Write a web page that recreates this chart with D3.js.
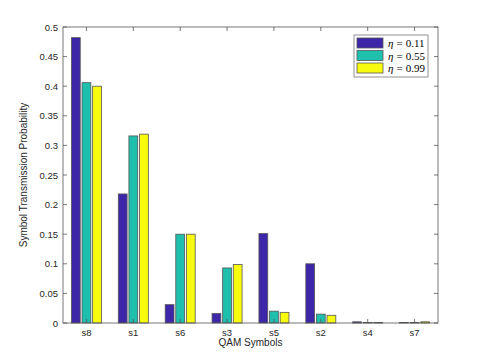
<!DOCTYPE html>
<html>
<head>
<meta charset="UTF-8">
<script src="https://cdnjs.cloudflare.com/ajax/libs/d3/7.8.5/d3.min.js"></script>
<style>
  body { margin: 0; background: #fff; }
  svg text { font-family: "Liberation Sans", Arial, sans-serif; }
</style>
</head>
<body>
<svg id="chart" width="485" height="363"></svg>
<script>
// data
const symbols = ["s8", "s1", "s6", "s3", "s5", "s2", "s4", "s7"];
const etaLabels = ["0.11", "0.55", "0.99"];
const eta011 = [0.482, 0.218, 0.031, 0.016, 0.151, 0.100, 0.002, 0.001];
const eta055 = [0.406, 0.316, 0.150, 0.093, 0.020, 0.015, 0.001, 0.001];
const eta099 = [0.400, 0.319, 0.150, 0.099, 0.018, 0.013, 0.001, 0.002];
const yTicks = [0, 0.05, 0.1, 0.15, 0.2, 0.25, 0.3, 0.35, 0.4, 0.45, 0.5];

const series = [eta011, eta055, eta099];
const colors = ["#3e26a8", "#1fbfae", "#f9fb0e"];

const svg = d3.select("#chart");
const m = { left: 63, top: 27, right: 438, bottom: 323 };

const x = d3.scaleBand().domain(symbols).range([m.left, m.right]).paddingInner(0.36).paddingOuter(0.18);
const xs = d3.scaleBand().domain(d3.range(series.length)).range([0, x.bandwidth()]).paddingInner(0.17);
const y = d3.scaleLinear().domain([0, 0.5]).range([m.bottom, m.top]);

const axisColor = "#555";
const textColor = "#262626";

// bars
const groups = svg.selectAll("g.grp")
  .data(symbols)
  .join("g")
  .attr("class", "grp")
  .attr("transform", d => `translate(${x(d)},0)`);

groups.selectAll("rect")
  .data((d, i) => series.map((s, k) => ({ k: k, v: s[i] })))
  .join("rect")
  .attr("x", d => xs(d.k))
  .attr("width", xs.bandwidth())
  .attr("y", d => y(d.v))
  .attr("height", d => y(0) - y(d.v))
  .attr("fill", (d) => colors[d.k])
  .attr("stroke", "#555")
  .attr("stroke-width", 0.8);

// axes box
svg.append("rect")
  .attr("x", m.left).attr("y", m.top)
  .attr("width", m.right - m.left).attr("height", m.bottom - m.top)
  .attr("fill", "none").attr("stroke", axisColor).attr("stroke-width", 0.8);

const tickLen = 4;
// y ticks both sides
yTicks.forEach(t => {
  const yy = y(t);
  svg.append("line").attr("x1", m.left).attr("x2", m.left + tickLen).attr("y1", yy).attr("y2", yy)
    .attr("stroke", axisColor).attr("stroke-width", 0.8);
  svg.append("line").attr("x1", m.right).attr("x2", m.right - tickLen).attr("y1", yy).attr("y2", yy)
    .attr("stroke", axisColor).attr("stroke-width", 0.8);
  svg.append("text").attr("x", m.left - 5).attr("y", yy + 3.5)
    .attr("text-anchor", "end").attr("font-size", 9.5).attr("fill", textColor)
    .text(String(t));
});

// x ticks top and bottom
symbols.forEach(s => {
  const xx = x(s) + x.bandwidth() / 2;
  svg.append("line").attr("x1", xx).attr("x2", xx).attr("y1", m.bottom).attr("y2", m.bottom - tickLen)
    .attr("stroke", axisColor).attr("stroke-width", 0.8);
  svg.append("line").attr("x1", xx).attr("x2", xx).attr("y1", m.top).attr("y2", m.top + tickLen)
    .attr("stroke", axisColor).attr("stroke-width", 0.8);
  svg.append("text").attr("x", xx).attr("y", m.bottom + 13)
    .attr("text-anchor", "middle").attr("font-size", 9.5).attr("fill", textColor)
    .text(s);
});

// axis labels
svg.append("text").attr("x", (m.left + m.right) / 2).attr("y", 346)
  .attr("text-anchor", "middle").attr("font-size", 10).attr("fill", textColor)
  .text("QAM Symbols");
svg.append("text")
  .attr("transform", `translate(27,${(m.top + m.bottom) / 2}) rotate(-90)`)
  .attr("text-anchor", "middle").attr("font-size", 10).attr("fill", textColor)
  .text("Symbol Transmission Probability");

// legend
const lg = svg.append("g").attr("transform", "translate(354,35)");
lg.append("rect").attr("width", 74).attr("height", 42)
  .attr("fill", "#fff").attr("stroke", "#777").attr("stroke-width", 0.8);
etaLabels.forEach((lab, i) => {
  const row = lg.append("g").attr("transform", `translate(3,${3 + i * 12.5})`);
  row.append("rect").attr("width", 26).attr("height", 10)
    .attr("fill", colors[i]).attr("stroke", "#555").attr("stroke-width", 0.8);
  const t = row.append("text").attr("x", 31).attr("y", 9)
    .attr("font-size", 11).attr("fill", "#000")
    .style("font-family", "'Liberation Serif', 'DejaVu Serif', serif");
  t.append("tspan").attr("font-style", "italic").text("η");
  t.append("tspan").attr("dx", 3).text("=");
  t.append("tspan").attr("dx", 3).text(lab);
});
</script>
</body>
</html>
